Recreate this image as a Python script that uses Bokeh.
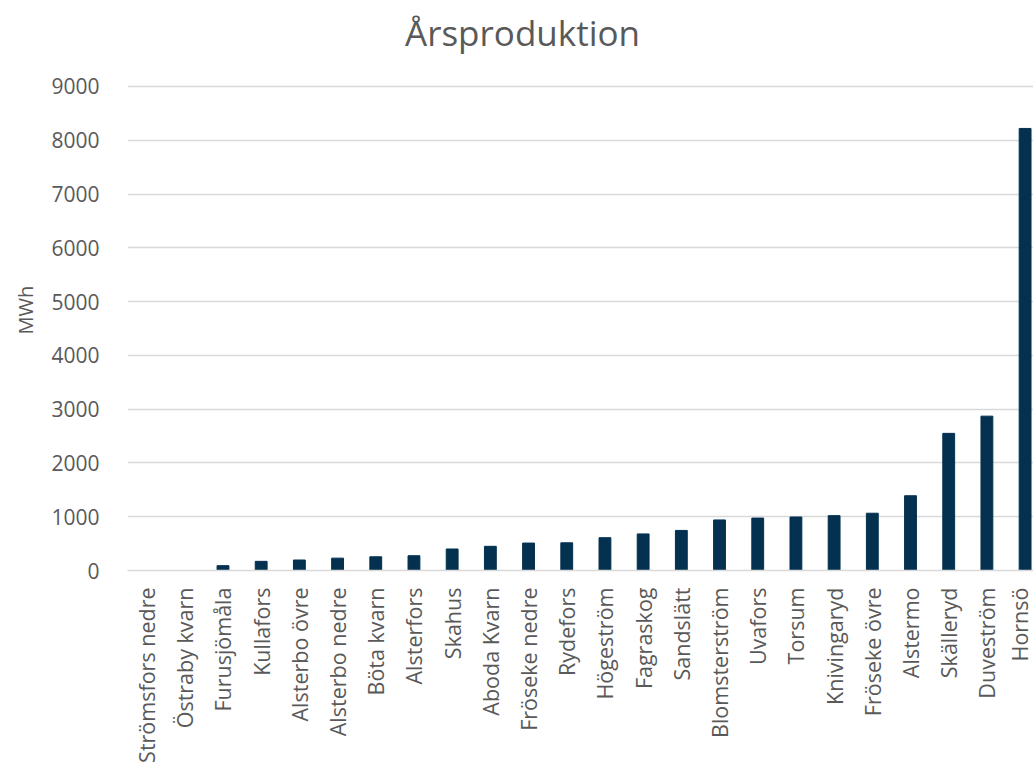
import numpy as np
from bokeh.plotting import figure
from bokeh.models import ColumnDataSource, Range1d, FixedTicker, Label, Title
from bokeh.embed import file_html
from bokeh.resources import INLINE

categories = ["Strömsfors nedre", "Östraby kvarn", "Furusjömåla", "Kullafors", "Alsterbo övre",
              "Alsterbo nedre", "Böta kvarn", "Alsterfors", "Skahus", "Aboda Kvarn",
              "Fröseke nedre", "Rydefors", "Högeström", "Fagraskog", "Sandslätt",
              "Blomsterström", "Uvafors", "Torsum", "Knivingaryd", "Fröseke övre",
              "Alstermo", "Skälleryd", "Duveström", "Hornsö"]
values = [0, 0, 90, 170, 195, 230, 255, 275, 400, 450,
          510, 515, 610, 680, 745, 940, 975, 995, 1020, 1065,
          1390, 2550, 2870, 8220]
y_ticks = [0, 1000, 2000, 3000, 4000, 5000, 6000, 7000, 8000, 9000]
title_text = "Årsproduktion"
y_label = "MWh"

positions = list(range(len(categories)))
src = ColumnDataSource(dict(x=positions, top=values))

FONT = "Open Sans"
GREY = "#595959"

p = figure(width=1033, height=770, output_backend="svg", toolbar_location=None,
           x_range=Range1d(-0.5, 23.22), y_range=Range1d(0, 10599),
           min_border_left=127, min_border_right=0,
           min_border_top=0, min_border_bottom=200)
p.vbar(x="x", top="top", width=0.31, source=src, color="#03314f", line_color="#03314f")

# chart title drawn inside the (taller) frame, above the 9000 gridline
title = Label(x=395, y=538, x_units="screen", y_units="screen", text=title_text,
              text_align="center", text_baseline="middle", text_font=FONT,
              text_font_size="35px", text_color=GREY)
p.add_layout(title)

p.outline_line_color = None
p.background_fill_color = "white"
p.border_fill_color = "white"

p.xgrid.grid_line_color = None
p.ygrid.grid_line_color = "#d9d9d9"
p.ygrid.grid_line_width = 1.5
p.yaxis.ticker = FixedTicker(ticks=y_ticks)
p.xaxis.ticker = FixedTicker(ticks=positions)
p.xaxis.major_label_overrides = {i: c for i, c in enumerate(categories)}
p.xaxis.major_label_orientation = np.pi / 2

for ax in (p.xaxis[0], p.yaxis[0]):
    ax.axis_line_color = None
    ax.major_tick_line_color = None
    ax.minor_tick_line_color = None
    ax.major_label_text_font = FONT
    ax.major_label_text_color = GREY

p.yaxis.major_label_text_font_size = "21px"
p.xaxis.major_label_text_font_size = "21.5px"
p.xaxis.axis_line_color = "#d9d9d9"
p.xaxis.axis_line_width = 1.5
p.yaxis.major_label_standoff = 22
p.xaxis.major_label_standoff = 11

# y-axis title, positioned against the 0..9000 part of the frame
ytitle = Title(text=y_label, align="left", offset=236, vertical_align="middle",
               standoff=18, text_font=FONT, text_font_size="20px",
               text_font_style="normal", text_color=GREY)
p.add_layout(ytitle, "left")

open("out.html", "w").write(file_html(p, INLINE))
